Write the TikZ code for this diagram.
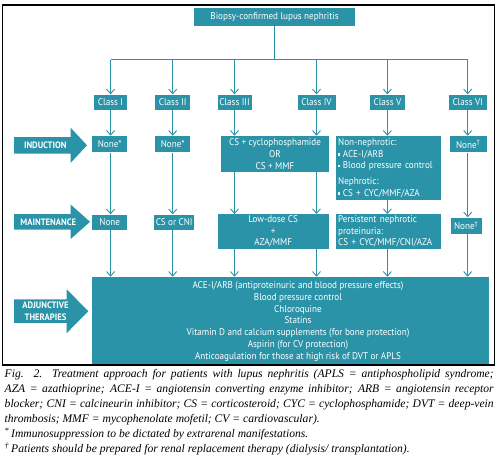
\documentclass[tikz,border=0pt]{standalone}
\usepackage{fontspec}
\newfontfamily\dfont[FakeStretch=0.93]{PT Sans}
\newfontfamily\capfont{Liberation Serif}
\usetikzlibrary{arrows.meta,calc}
\definecolor{teal1}{RGB}{42,147,168}
\newcommand\sqb{\raisebox{1.6pt}{\rule{2.2pt}{2.2pt}}\hspace{2.5pt}}
\newcommand\nohyph{\hyphenpenalty=10000\relax\exhyphenpenalty=10000\relax}
\begin{document}
\begin{tikzpicture}[x=1pt,y=-1pt,
  box/.style={fill=teal1, text=white, inner sep=0pt, anchor=north west,
    font=\dfont\fontsize{9.8}{11.7}\selectfont, align=center},
  conn/.style={draw=teal1, line width=0.9pt},
  arr/.style={conn, -{Straight Barb[length=4.5pt,width=8pt]}},
  armlabel/.style={text=white, inner sep=0pt, align=center,
    font=\dfont\bfseries\fontsize{9.3}{12.3}\selectfont},
  ]
\useasboundingbox (0,0) rectangle (498,474);
\draw[black, line width=1.3pt] (2.5,5) rectangle (494.7,365);

% title
\node[box, minimum width=160.7pt, minimum height=18.4pt] (title) at (194,7.3) {Biopsy-confirmed lupus nephritis};

% classes
\node[box, minimum width=32.7pt, minimum height=15pt] (c1) at (94,94.3) {Class I};
\node[box, minimum width=35pt, minimum height=15pt] (c2) at (155,94.3) {Class II};
\node[box, minimum width=34pt, minimum height=15pt] (c3) at (217.3,94.3) {Class III};
\node[box, minimum width=38pt, minimum height=15pt] (c4) at (297.3,94.3) {Class IV};
\node[box, minimum width=35pt, minimum height=15pt] (c5) at (369.7,94.3) {Class V};
\node[box, minimum width=37.6pt, minimum height=15pt] (c6) at (448.7,94.3) {Class VI};

% induction
\node[box, minimum width=35pt, minimum height=16.5pt] (i1) at (92,135.7) {None*};
\node[box, minimum width=35pt, minimum height=16.5pt] (i2) at (155,135.7) {None*};
\node[box, minimum width=107.7pt, minimum height=36pt] (i34) at (221,135.7) {CS + cyclophosphamide\\OR\\CS + MMF};
\node[box, minimum width=104.6pt, minimum height=64.3pt, text width=100pt, align=left] (i5) at (335.7,135.7)
  {Non-nephrotic:\\\sqb ACE-I/ARB\\\sqb Blood pressure control\\[4pt]Nephrotic:\\\sqb CS + CYC/MMF/AZA};
\node[box, minimum width=36.6pt, minimum height=16.5pt] (i6) at (449.7,135.7) {None\textsuperscript{†}};

% maintenance
\node[box, minimum width=35pt, minimum height=15pt] (m1) at (92,214.3) {None};
\node[box, minimum width=40pt, minimum height=15pt] (m2) at (154,214.3) {CS or CNI};
\node[box, minimum width=111.4pt, minimum height=34.3pt] (m34) at (217.3,214) {Low-dose CS\\+\\AZA/MMF};
\node[box, minimum width=104.6pt, minimum height=34.3pt, text width=100pt, align=left] (m5) at (335.7,214)
  {Persistent nephrotic\\proteinuria:\\CS + CYC/MMF/CNI/AZA};
\node[box, minimum width=30.6pt, minimum height=16pt] (m6) at (450.7,217.3) {None\textsuperscript{†}};

% adjunctive
\node[box, minimum width=396.7pt, minimum height=87pt] (adj) at (92,276.7) {};
\node[text=white, inner sep=0pt, align=center, font=\dfont\fontsize{9.8}{11.75}\selectfont] (adjt) at (298,321.3)
  {ACE-I/ARB (antiproteinuric and blood pressure effects)\\Blood pressure control\\Chloroquine\\Statins\\
   Vitamin D and calcium supplements (for bone protection)\\Aspirin (for CV protection)\\
   Anticoagulation for those at high risk of DVT or APLS};

% big arrows
\fill[teal1] (14,137) -- (70.7,137) -- (70.7,127.8) -- (87,145.3) -- (70.7,162.8) -- (70.7,153.6) -- (14,153.6) -- cycle;
\node[armlabel] (indl) at (45.3,145.3) {INDUCTION};
\fill[teal1] (14,214) -- (70.7,214) -- (70.7,204.6) -- (90,221.8) -- (70.7,239) -- (70.7,229.6) -- (14,229.6) -- cycle;
\node[armlabel] (mainl) at (48.3,221.8) {MAINTENANCE};
\fill[teal1] (14,299.3) -- (66.7,299.3) -- (66.7,289.3) -- (88.3,311.2) -- (66.7,333.1) -- (66.7,322.9) -- (14,322.9) -- cycle;
\node[armlabel] (adjl) at (45.5,311.2) {ADJUNCTIVE\\THERAPIES};

% connectors
\coordinate (bus) at (0,59.5);
\draw[conn] (title.south) -- (title.south |- bus);
\draw[conn] (c1.north |- bus) -- (c6.north |- bus);
\foreach \c in {c1,c2,c3,c4,c5,c6}{
  \draw[arr] (\c.north |- bus) -- (\c.north);
}
\draw[arr] (c1.south) -- (c1.south |- i1.north);
\draw[arr] (c1.south |- i1.south) -- (c1.south |- m1.north);
\draw[arr] (c1.south |- m1.south) -- (c1.south |- adj.north);
\draw[arr] (c2.south) -- (c2.south |- i2.north);
\draw[arr] (c2.south |- i2.south) -- (c2.south |- m2.north);
\draw[arr] (c2.south |- m2.south) -- (c2.south |- adj.north);
\draw[arr] (c3.south) -- (c3.south |- i34.north);
\draw[arr] (c3.south |- i34.south) -- (c3.south |- m34.north);
\draw[arr] (c3.south |- m34.south) -- (c3.south |- adj.north);
\draw[arr] (c4.south) -- (c4.south |- i34.north);
\draw[arr] (c4.south |- i34.south) -- (c4.south |- m34.north);
\draw[arr] (c4.south |- m34.south) -- (c4.south |- adj.north);
\draw[arr] (c5.south) -- (c5.south |- i5.north);
\draw[arr] (c5.south |- i5.south) -- (c5.south |- m5.north);
\draw[arr] (c5.south |- m5.south) -- (c5.south |- adj.north);
\draw[arr] (c6.south) -- (c6.south |- i6.north);
\draw[arr] (c6.south |- i6.south) -- (c6.south |- m6.north);
\draw[arr] (c6.south |- m6.south) -- (c6.south |- adj.north);

% caption
\node[anchor=north west, inner sep=0pt, text width=489pt, align=justify,
  font=\capfont\itshape\fontsize{11.6}{15}\selectfont\nohyph] (cap) at (4.5,369.5)
  {Fig.\ \ 2.\ \ Treatment approach for patients with lupus nephritis (APLS = antiphospholipid syndrome;\linebreak
   AZA = azathioprine; ACE-I = angiotensin converting enzyme inhibitor; ARB = angiotensin receptor\linebreak
   blocker; CNI = calcineurin inhibitor; CS = corticosteroid; CYC = cyclophosphamide; DVT = deep-vein\linebreak
   thrombosis; MMF = mycophenolate mofetil; CV = cardiovascular).\\
   \textsuperscript{*}\,Immunosuppression to be dictated by extrarenal manifestations.\\
   \textsuperscript{†}\,Patients should be prepared for renal replacement therapy (dialysis/ transplantation).};
\end{tikzpicture}
\end{document}
